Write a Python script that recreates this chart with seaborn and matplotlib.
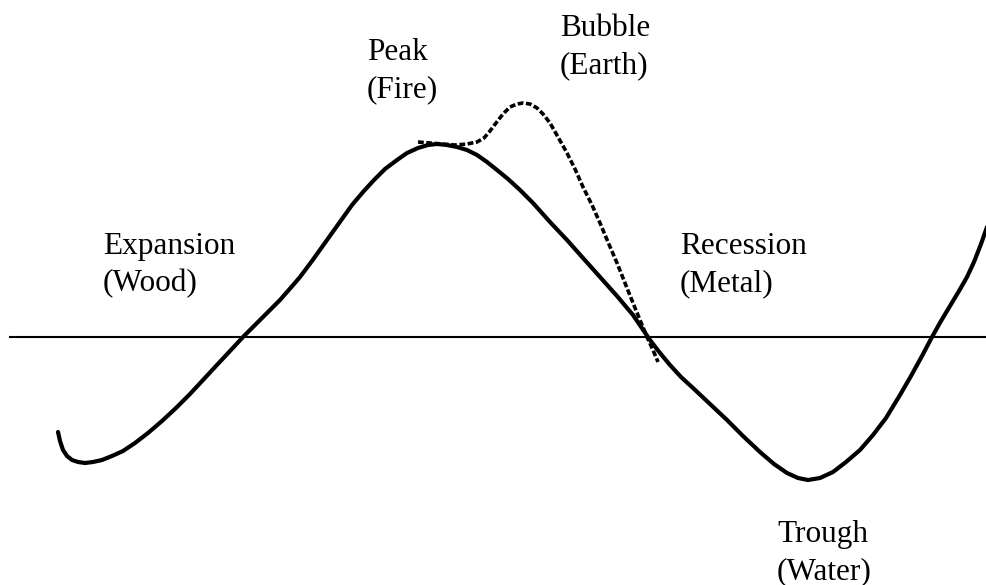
import numpy as np
import pandas as pd
import matplotlib
matplotlib.use("Agg")
import matplotlib.pyplot as plt
import seaborn as sns

# Business cycle curve (x position, level relative to the trend line)
cycle_x = [58, 60, 63, 67, 72, 78, 85, 93, 102, 112, 123, 135, 148, 162, 176, 190,
           203, 216, 230, 243, 258, 273, 280, 287, 294, 300, 306, 312, 322, 332,
           342, 352, 363, 374, 385, 397, 407, 418, 428, 437, 447, 457, 467, 477,
           487, 497, 508, 520, 533, 550, 567, 583, 600, 617, 633, 650, 660, 670,
           681, 693, 710, 727, 743, 760, 774, 787, 798, 808, 820, 833, 846, 860,
           873, 886, 900, 911, 922, 932, 941, 950, 959, 967, 974, 981, 987]
cycle_y = [-95, -104, -113, -119, -123, -125, -126, -125, -123, -119, -114, -106,
           -96, -84, -71, -57, -43, -29, -14, 0, 15, 30, 37, 45, 53, 60, 68, 76,
           90, 104, 118, 132, 145, 157, 168, 177, 184, 189, 192, 193, 192, 190,
           187, 182, 175, 167, 158, 147, 134, 115, 97, 79, 60, 41, 22, -3, -16,
           -28, -40, -51, -67, -83, -99, -115, -127, -136, -141, -143, -141, -135,
           -125, -113, -98, -81, -58, -39, -19, 0, 16, 31, 46, 60, 75, 93, 110]

# Bubble excursion (dashed)
bubble_x = [418, 430, 442, 455, 467, 477, 484, 490, 496, 503, 510, 517, 523, 530,
            537, 543, 550, 558, 567, 575, 583, 592, 600, 608, 617, 625, 633, 640,
            647, 653, 658]
bubble_y = [195, 194, 193, 192, 193, 195, 199, 206, 214, 223, 230, 233, 234, 233,
            229, 223, 214, 200, 184, 168, 150, 132, 114, 95, 74, 54, 34, 17, 0,
            -13, -25]

trend_x = [9, 987]
trend_y = [0, 0]

labels = [("Peak", "(Fire)"), ("Bubble", "(Earth)"), ("Expansion", "(Wood)"),
          ("Recession", "(Metal)"), ("Trough", "(Water)")]
label_x = [367, 560, 103, 680, 777]
label_y = [277, 301, 83, 83, -205]

sns.set_theme(style="white")
plt.rcParams['font.family'] = ['Liberation Serif', 'DejaVu Serif']

fig = plt.figure(figsize=(9.87, 5.85), dpi=100)
ax = fig.add_axes([0, 0, 1, 1])

df_cycle = pd.DataFrame({"x": cycle_x, "y": cycle_y})
df_bubble = pd.DataFrame({"x": bubble_x, "y": bubble_y})
df_trend = pd.DataFrame({"x": trend_x, "y": trend_y})

sns.lineplot(data=df_trend, x="x", y="y", ax=ax, color="black", lw=1.5, sort=False)
sns.lineplot(data=df_cycle, x="x", y="y", ax=ax, color="black", lw=3.0, sort=False)
sns.lineplot(data=df_bubble, x="x", y="y", ax=ax, color="black", lw=2.6, sort=False)
ax.lines[-1].set_dashes([1.6, 0.7])
for ln in ax.lines:
    ln.set_solid_capstyle("round")
    ln.set_solid_joinstyle("round")
    ln.set_dash_joinstyle("round")
ax.lines[0].set_solid_capstyle("butt")

for (l1, l2), tx, ty in zip(labels, label_x, label_y):
    ax.text(tx, ty, l1, fontsize=22.5, ha="left", va="baseline", color="black")
    ax.text(tx, ty - 37, l2, fontsize=22.5, ha="left", va="baseline", color="black")

ax.set_xlim(0, 987)
ax.set_ylim(-248, 337)
ax.set_axis_off()
fig.savefig("out.png", dpi=100, facecolor="white")
